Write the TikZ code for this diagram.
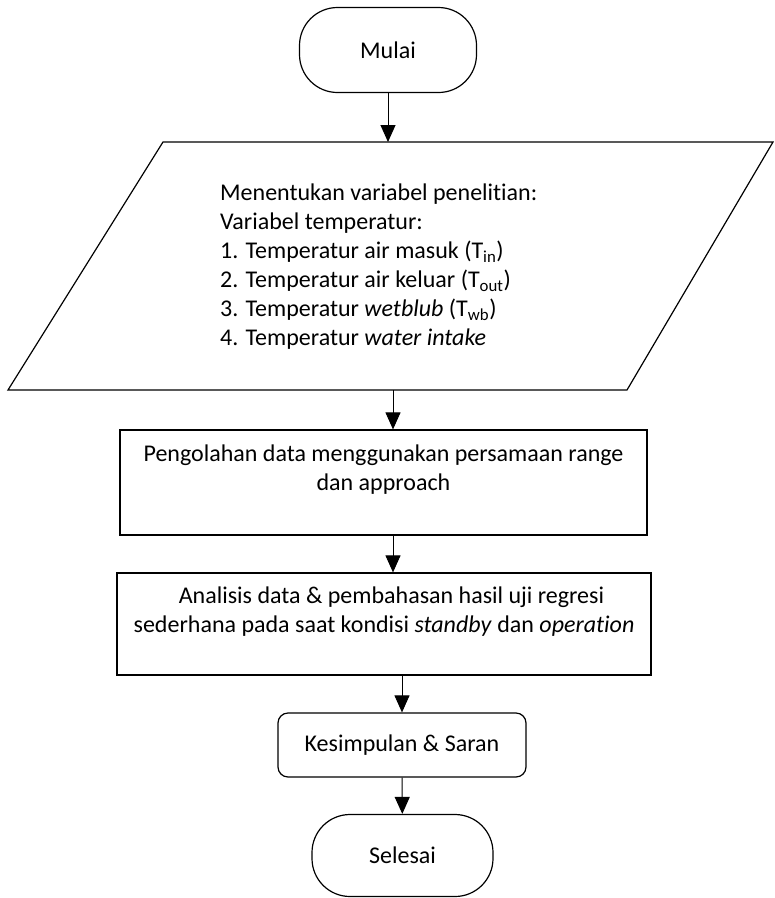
\documentclass[tikz,border=0pt]{standalone}
\usepackage{fontspec}
\setmainfont{Carlito}[Ligatures = NoCommon, Contextuals = NoAlternate, RawFeature = {-liga;-clig;-calt;-dlig}]
\usetikzlibrary{arrows.meta}
\begin{document}
\begin{tikzpicture}[x = 1pt, y = -1pt,
    every node/.style = {font = \fontsize{24}{29}\selectfont, inner sep = 0pt},
    terminal/.style = {draw, line width = 1.2pt, rounded corners = 38pt},
    procbox/.style = {draw, line width = 1.2pt, align = center},
    flow/.style = {-{Triangle[length = 17pt, width = 15pt]}, line width = 1pt}]
  \useasboundingbox (0, 0) rectangle (775, 898);
  \node[terminal, minimum width = 177pt, minimum height = 85pt] (mulai) at (388, 50) {Mulai};
  \coordinate (pnw) at (163, 142);
  \coordinate (pne) at (773, 142);
  \coordinate (pse) at (627, 390);
  \coordinate (psw) at (8, 390);
  \draw[line width = 1.2pt] (pnw)--(pne)--(pse)--(psw)--cycle;
  \node[anchor = west, align = left] (vars) at (220, 267) {Menentukan variabel penelitian:\\
    Variabel temperatur:\\
    1. Temperatur air masuk (T\textsubscript{in})\\
    2. Temperatur air keluar (T\textsubscript{out})\\
    3. Temperatur \textit{wetblub} (T\textsubscript{wb})\\
    4. Temperatur \textit{water intake}};
  \node[procbox, minimum width = 527pt, minimum height = 105pt] (olah) at (383.5, 482.5)
    {Pengolahan data menggunakan persamaan range\\dan approach\\\mbox{}};
  \node[procbox, minimum width = 534pt, minimum height = 102pt] (analisis) at (384, 624)
    {\hspace*{15pt}Analisis data \& pembahasan hasil uji regresi\\
    sederhana pada saat kondisi \textit{standby} dan \textit{operation}\\\mbox{}};
  \node[procbox, rounded corners = 10pt, minimum width = 248pt, minimum height = 64pt] (simpul) at (402, 745)
    {Kesimpulan \& Saran};
  \node[terminal, minimum width = 181pt, minimum height = 82pt] (selesai) at (402.5, 855.5) {Selesai};
  \coordinate (pout) at (393, 390);
  \draw[flow] (mulai)--(mulai |- pnw);
  \draw[flow] (pout)--(pout |- olah.north);
  \draw[flow] ([xshift = 9.5pt]olah.south)--([xshift = 9.5pt]olah.south |- analisis.north);
  \draw[flow] (analisis.south -| simpul.north)--(simpul.north);
  \draw[flow] (simpul)--(selesai);
\end{tikzpicture}
\end{document}
